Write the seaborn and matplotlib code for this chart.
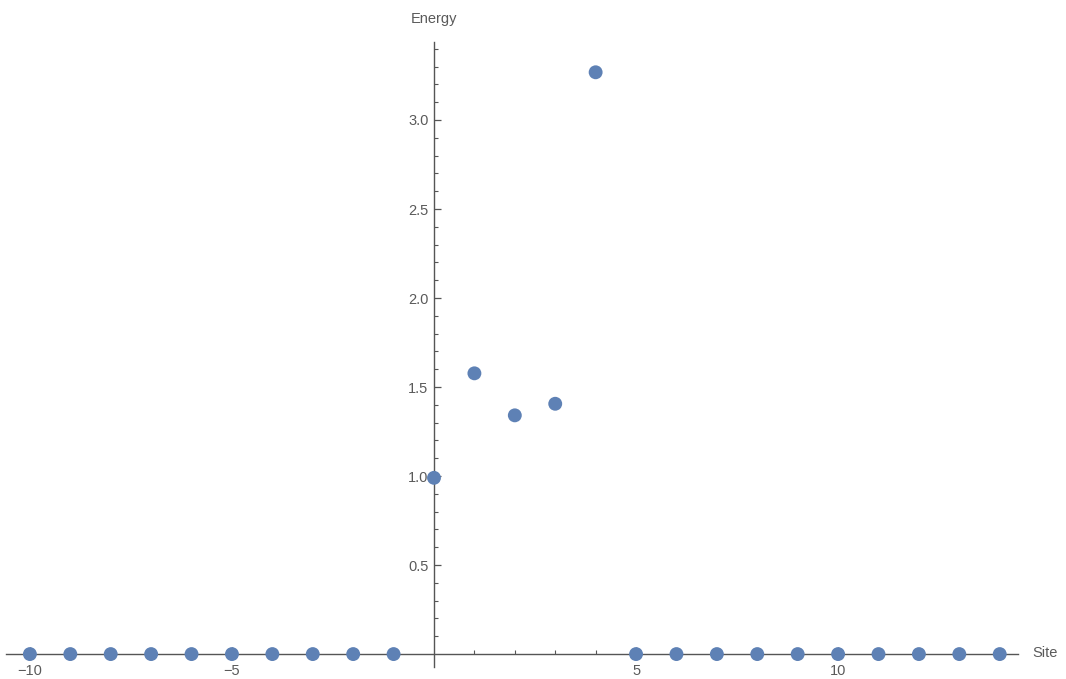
import matplotlib
matplotlib.use("Agg")
import matplotlib.pyplot as plt
import seaborn as sns
import pandas as pd
from matplotlib.ticker import FixedLocator

# Energy per lattice site
sites = list(range(-10, 15))
energy = [0, 0, 0, 0, 0, 0, 0, 0, 0, 0,
          0.99, 1.577, 1.341, 1.406, 3.268,
          0, 0, 0, 0, 0, 0, 0, 0, 0, 0]

x_ticks = [-10, -5, 5, 10]
x_tick_labels = ["\u221210", "\u22125", "5", "10"]
y_ticks = [0.5, 1.0, 1.5, 2.0, 2.5, 3.0]
y_tick_labels = ["0.5", "1.0", "1.5", "2.0", "2.5", "3.0"]

df = pd.DataFrame({"Site": sites, "Energy": energy})

sns.set_style("white")
plt.rcParams["font.family"] = ["Liberation Sans", "DejaVu Sans"]

fig = plt.figure(figsize=(10.66, 6.79), dpi=100)
ax = fig.add_axes([0, 0, 1, 1])

axis_color = "#555555"
text_color = "#5a5a5a"
point_color = "#5E81B5"

sns.scatterplot(data=df, x="Site", y="Energy", ax=ax, s=100,
                color=point_color, edgecolor="none", zorder=3, clip_on=False)

ax.set_xlim(-10.74, 15.64)
ax.set_ylim(-0.14, 3.674)

# axes crossing at the origin
for side in ("top", "right"):
    ax.spines[side].set_visible(False)
ax.spines["left"].set_position(("data", 0))
ax.spines["bottom"].set_position(("data", 0))
ax.spines["left"].set_bounds(-0.07, 3.44)
ax.spines["bottom"].set_bounds(-10.6, 14.45)
for side in ("left", "bottom"):
    ax.spines[side].set_color(axis_color)
    ax.spines[side].set_linewidth(1.0)

ax.xaxis.set_major_locator(FixedLocator(x_ticks))
ax.set_xticklabels(x_tick_labels)
ax.xaxis.set_minor_locator(FixedLocator([v for v in range(-10, 15) if v % 5 != 0]))
ax.yaxis.set_major_locator(FixedLocator(y_ticks))
ax.set_yticklabels(y_tick_labels)
ax.yaxis.set_minor_locator(FixedLocator([round(0.1 * i, 1) for i in range(1, 35) if i % 5 != 0]))

ax.tick_params(axis="both", which="both", bottom=True, left=True, top=False, right=False)
ax.tick_params(axis="both", which="major", direction="in", length=5, width=0.9,
               color=axis_color, labelcolor=text_color, labelsize=10.5)
ax.tick_params(axis="both", which="minor", direction="in", length=3, width=0.8,
               color=axis_color)
ax.tick_params(axis="x", which="both", pad=7)
ax.tick_params(axis="y", which="both", pad=4)

ax.set_xlabel("")
ax.set_ylabel("")
ax.text(0, 3.57, "Energy", ha="center", va="center", fontsize=10.5, color=text_color)
ax.text(14.8, 0.005, "Site", ha="left", va="center", fontsize=10.5, color=text_color)
ax.grid(False)

fig.savefig("out.png", dpi=100)
